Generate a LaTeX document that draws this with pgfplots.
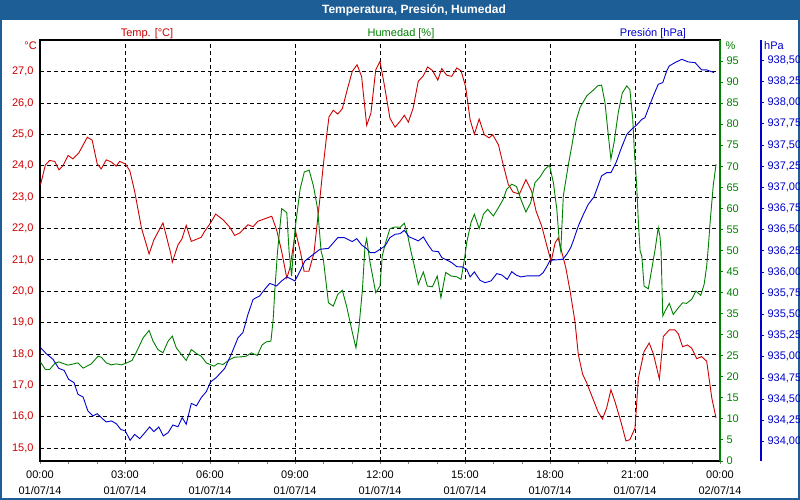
\documentclass[border=0pt]{standalone}
\usepackage{fontspec}
\setmainfont{Liberation Sans}
\usepackage{pgfplots}
\pgfplotsset{compat=1.18}
\usepackage{pgfplotstable}

\definecolor{barblue}{RGB}{30,94,150}
\definecolor{tempred}{RGB}{204,0,0}
\definecolor{humgreen}{RGB}{0,128,0}
\definecolor{presblue}{RGB}{0,0,204}

% temperatura [C], x in hours from 01/07/14 00:00
\pgfplotstableread{
h T
0.02 23.40
0.19 24.03
0.34 24.17
0.52 24.14
0.67 23.87
0.81 24.00
0.99 24.33
1.16 24.22
1.37 24.41
1.67 24.91
1.84 24.82
2.02 24.06
2.16 23.90
2.34 24.19
2.52 24.12
2.69 23.99
2.81 24.14
3.01 24.06
3.17 23.84
3.34 23.19
3.58 22.02
3.85 21.19
4.02 21.64
4.34 22.18
4.61 21.22
4.67 20.93
4.87 21.48
5.01 21.67
5.16 22.10
5.34 21.59
5.69 21.72
5.81 21.91
6.02 22.18
6.20 22.46
6.46 22.28
6.70 22.04
6.87 21.78
7.05 21.86
7.34 22.12
7.52 22.06
7.69 22.23
8.11 22.37
8.18 22.39
8.35 21.96
8.53 21.27
8.71 20.42
8.82 20.74
9.02 21.91
9.20 21.22
9.32 20.64
9.49 20.64
9.67 21.22
9.88 22.97
10.00 24.03
10.12 24.99
10.20 25.56
10.35 25.77
10.51 25.65
10.67 25.82
10.86 26.48
11.02 27.01
11.19 27.22
11.35 26.85
11.53 25.29
11.68 25.68
11.85 27.06
12.00 27.33
12.15 26.59
12.35 25.52
12.53 25.23
12.71 25.42
12.86 25.61
13.00 25.39
13.17 25.84
13.35 26.69
13.53 26.87
13.68 27.15
13.85 27.04
14.04 26.73
14.18 27.10
14.35 26.89
14.53 26.85
14.71 27.12
14.86 27.03
15.02 26.53
15.18 25.47
15.33 25.01
15.50 25.49
15.68 24.99
15.85 24.89
15.98 24.99
16.18 24.67
16.35 24.03
16.53 23.40
16.70 23.16
16.92 23.10
17.15 23.56
17.35 23.19
17.51 22.55
17.71 22.07
17.88 21.48
18.04 20.95
18.18 21.54
18.29 21.70
18.41 21.27
18.56 20.74
18.71 20.00
18.88 19.04
19.00 17.98
19.15 17.36
19.30 17.07
19.53 16.54
19.70 16.15
19.85 15.93
20.00 16.28
20.15 16.86
20.29 16.49
20.50 15.85
20.68 15.23
20.82 15.27
21.00 15.64
21.12 17.23
21.32 18.08
21.50 18.35
21.65 18.00
21.86 17.20
22.00 18.56
22.21 18.77
22.41 18.77
22.53 18.64
22.68 18.23
22.85 18.29
23.00 18.19
23.18 17.85
23.35 17.92
23.53 17.77
23.71 16.60
23.86 15.96
}\temptab

% humedad [%]
\pgfplotstableread{
h H
0.02 23.47
0.19 21.74
0.34 21.74
0.52 23.16
0.66 23.54
0.99 22.76
1.34 23.31
1.52 22.05
1.81 23.07
2.05 24.90
2.16 24.66
2.34 23.31
2.52 22.83
2.69 23.07
2.87 22.83
3.01 23.16
3.25 23.88
3.40 25.85
3.64 29.25
3.85 31.01
3.99 28.47
4.16 26.49
4.34 25.69
4.52 28.47
4.67 29.66
4.81 26.87
4.99 25.31
5.16 23.88
5.34 26.49
5.52 25.54
5.69 24.90
5.87 23.31
6.14 22.52
6.28 23.16
6.46 22.93
6.70 24.11
6.87 24.66
7.10 24.73
7.28 24.90
7.46 25.69
7.67 25.07
7.84 27.59
7.99 28.30
8.15 28.47
8.23 33.63
8.29 40.77
8.38 49.47
8.53 59.94
8.71 58.99
8.79 49.87
8.88 43.93
9.00 55.04
9.18 64.55
9.33 68.67
9.50 69.07
9.65 65.34
9.80 59.80
9.92 49.87
10.00 47.90
10.18 37.58
10.35 36.79
10.51 39.58
10.67 40.53
10.82 36.79
11.00 31.25
11.15 26.87
11.26 32.04
11.38 40.77
11.47 51.07
11.53 52.80
11.59 49.87
11.65 47.10
11.85 39.96
12.00 41.55
12.08 48.69
12.18 51.47
12.35 55.18
12.53 55.58
12.71 55.51
12.86 56.47
12.98 53.44
13.09 49.87
13.24 45.52
13.35 41.96
13.53 44.88
13.67 41.55
13.85 41.39
14.02 43.93
14.15 38.77
14.32 44.80
14.51 43.93
14.71 43.76
14.86 43.14
14.98 47.90
15.06 51.85
15.21 56.61
15.33 58.61
15.50 55.18
15.65 58.61
15.80 59.80
16.00 58.20
16.18 60.17
16.35 62.17
16.47 64.55
16.65 65.74
16.82 65.17
16.97 62.17
17.15 59.15
17.32 61.37
17.47 66.12
17.65 67.48
17.82 69.31
17.98 70.26
18.12 66.12
18.24 59.80
18.33 51.85
18.38 49.87
18.47 62.96
18.65 70.50
18.77 74.85
18.92 80.80
19.06 83.96
19.30 86.75
19.53 88.10
19.68 89.12
19.82 89.29
19.94 85.15
20.06 77.23
20.15 71.69
20.26 75.64
20.41 82.78
20.55 87.39
20.71 89.12
20.82 88.17
20.92 81.20
20.98 73.26
21.06 65.34
21.12 56.61
21.18 49.87
21.24 48.69
21.32 41.55
21.47 40.91
21.59 45.52
21.71 50.28
21.82 55.42
21.88 53.44
21.92 49.87
21.98 34.42
22.06 35.60
22.21 37.44
22.35 34.82
22.53 36.39
22.68 37.58
22.82 37.44
23.00 38.39
23.15 40.36
23.32 39.34
23.44 41.96
23.53 46.31
23.59 51.07
23.65 56.61
23.76 65.34
23.86 70.50
}\humtab

% presion [hPa]
\pgfplotstableread{
h P
0.02 935.108
0.22 935.037
0.46 934.970
0.66 934.864
0.85 934.840
1.01 934.734
1.20 934.695
1.34 934.557
1.52 934.526
1.69 934.361
1.87 934.302
2.02 934.329
2.19 934.273
2.34 934.231
2.52 934.243
2.69 934.211
2.85 934.143
3.01 934.125
3.18 934.014
3.34 934.084
3.52 934.034
3.70 934.104
3.87 934.172
4.02 934.116
4.19 934.172
4.35 934.066
4.52 934.104
4.69 934.195
4.87 934.175
5.02 934.282
5.16 934.203
5.34 934.450
5.52 934.420
5.69 934.518
5.87 934.589
6.02 934.703
6.22 934.754
6.52 934.864
6.75 935.029
6.99 935.226
7.16 935.285
7.34 935.501
7.52 935.678
7.75 935.718
7.93 935.796
8.11 935.867
8.35 935.836
8.53 935.896
8.71 935.943
9.00 935.896
9.18 936.014
9.35 936.132
9.65 936.210
9.88 936.269
10.18 936.280
10.51 936.407
10.74 936.407
11.02 936.360
11.18 936.395
11.35 936.321
11.53 936.277
11.65 936.230
11.82 936.230
12.00 936.269
12.18 936.309
12.35 936.407
12.53 936.446
12.71 936.454
12.86 936.493
13.03 936.415
13.18 936.395
13.35 936.368
13.53 936.415
13.70 936.321
13.85 936.250
14.06 936.241
14.18 936.171
14.35 936.143
14.53 936.112
14.71 936.064
14.90 936.061
15.06 936.033
15.18 935.943
15.33 936.002
15.53 935.903
15.71 935.875
15.92 935.896
16.12 935.982
16.30 935.966
16.49 935.914
16.65 936.005
16.80 935.966
16.97 935.943
17.18 935.955
17.62 935.955
17.76 935.994
17.90 936.073
18.00 936.139
18.45 936.151
18.59 936.210
18.73 936.289
18.82 936.368
19.00 936.545
19.18 936.682
19.35 936.800
19.55 936.887
19.65 936.977
19.82 937.135
20.00 937.174
20.15 937.174
20.33 937.292
20.50 937.449
20.71 937.626
20.88 937.685
21.06 937.737
21.24 937.803
21.35 937.823
21.53 937.981
21.67 938.099
21.82 938.217
21.98 938.237
22.12 938.375
22.21 938.434
22.41 938.473
22.65 938.512
22.88 938.481
23.12 938.473
23.35 938.387
23.53 938.387
23.79 938.355
}\prestab

\pgfplotsset{
  base/.style={scale only axis, height=421pt, at={(40pt,39pt)}, anchor=south west,
    tick label style={font=\fontsize{11}{13}\selectfont},
    /pgf/number format/assume math mode=true, scaled y ticks=false,
    tick align=outside, major tick length=3pt, minor tick length=3pt},
}

\begin{document}
\begin{tikzpicture}[x=1pt,y=1pt]
\path[use as bounding box] (0,0) rectangle (800,500);
\fill[barblue] (0,479.5) rectangle (800,500);
\draw[barblue, line width=2pt] (1,1) rectangle (799,499);
\node[white, font=\bfseries\fontsize{12}{14}\selectfont] at (414,490) {Temperatura, Presión, Humedad};

% temperatura, with the grid and the time axis
\begin{axis}[base, width=680pt, xmin=0, xmax=24, ymin=14.59, ymax=28.01,
  axis line style={black, line width=1.2pt},
  xtick={0,3,...,24}, minor x tick num=2, xtick pos=bottom, ytick pos=left,
  ytick={15,...,27}, ytick style={draw=none},
  grid=major, major grid style={black, line width=0.9pt, dash pattern=on 4pt off 3pt},
  xticklabels={{00:00\\01/07/14},{03:00\\01/07/14},{06:00\\01/07/14},{09:00\\01/07/14},
    {12:00\\01/07/14},{15:00\\01/07/14},{18:00\\01/07/14},{21:00\\01/07/14},{00:00\\02/07/14}},
  xticklabel style={align=center, font=\fontsize{11}{16}\selectfont, yshift=-3.5pt},
  yticklabel style={text=tempred, /pgf/number format/.cd, fixed, fixed zerofill, precision=1, use comma}]
\addplot[tempred, line width=0.9pt] table[x=h, y=T] {\temptab};
\end{axis}

% humedad
\begin{axis}[base, width=680pt, xmin=0, xmax=24, ymin=0, ymax=100,
  axis x line=none, axis y line*=right,
  y axis line style={humgreen, line width=1.6pt, -},
  ytick={0,5,...,95}, ytick style={humgreen, line width=0.9pt},
  yticklabel style={text=humgreen}]
\addplot[humgreen, line width=0.9pt] table[x=h, y=H] {\humtab};
\end{axis}

% presion
\begin{axis}[base, width=721pt, xmin=0, xmax=25.447, ymin=933.77, ymax=938.74,
  axis x line=none, axis y line*=right,
  y axis line style={presblue, line width=1.6pt, -},
  ytick={934,934.25,...,938.5}, ytick style={presblue, line width=0.9pt},
  yticklabel style={text=presblue, /pgf/number format/.cd, fixed, fixed zerofill, precision=2, use comma}]
\addplot[presblue, line width=0.9pt] table[x=h, y=P] {\prestab};
\end{axis}

\begin{scope}[font=\fontsize{11}{13}\selectfont]
\node[tempred, anchor=base] at (147,463.5) {Temp. [°C]};
\node[humgreen, anchor=base] at (401,463.5) {Humedad [\%]};
\node[presblue, anchor=base] at (653,463.5) {Presión [hPa]};
\node[tempred, anchor=base east, inner sep=0pt] at (37,450) {°C};
\node[humgreen, anchor=base west, inner sep=0pt] at (725.5,450) {\%};
\node[presblue, anchor=base west, inner sep=0pt] at (764,450) {hPa};
\end{scope}
\end{tikzpicture}
\end{document}
